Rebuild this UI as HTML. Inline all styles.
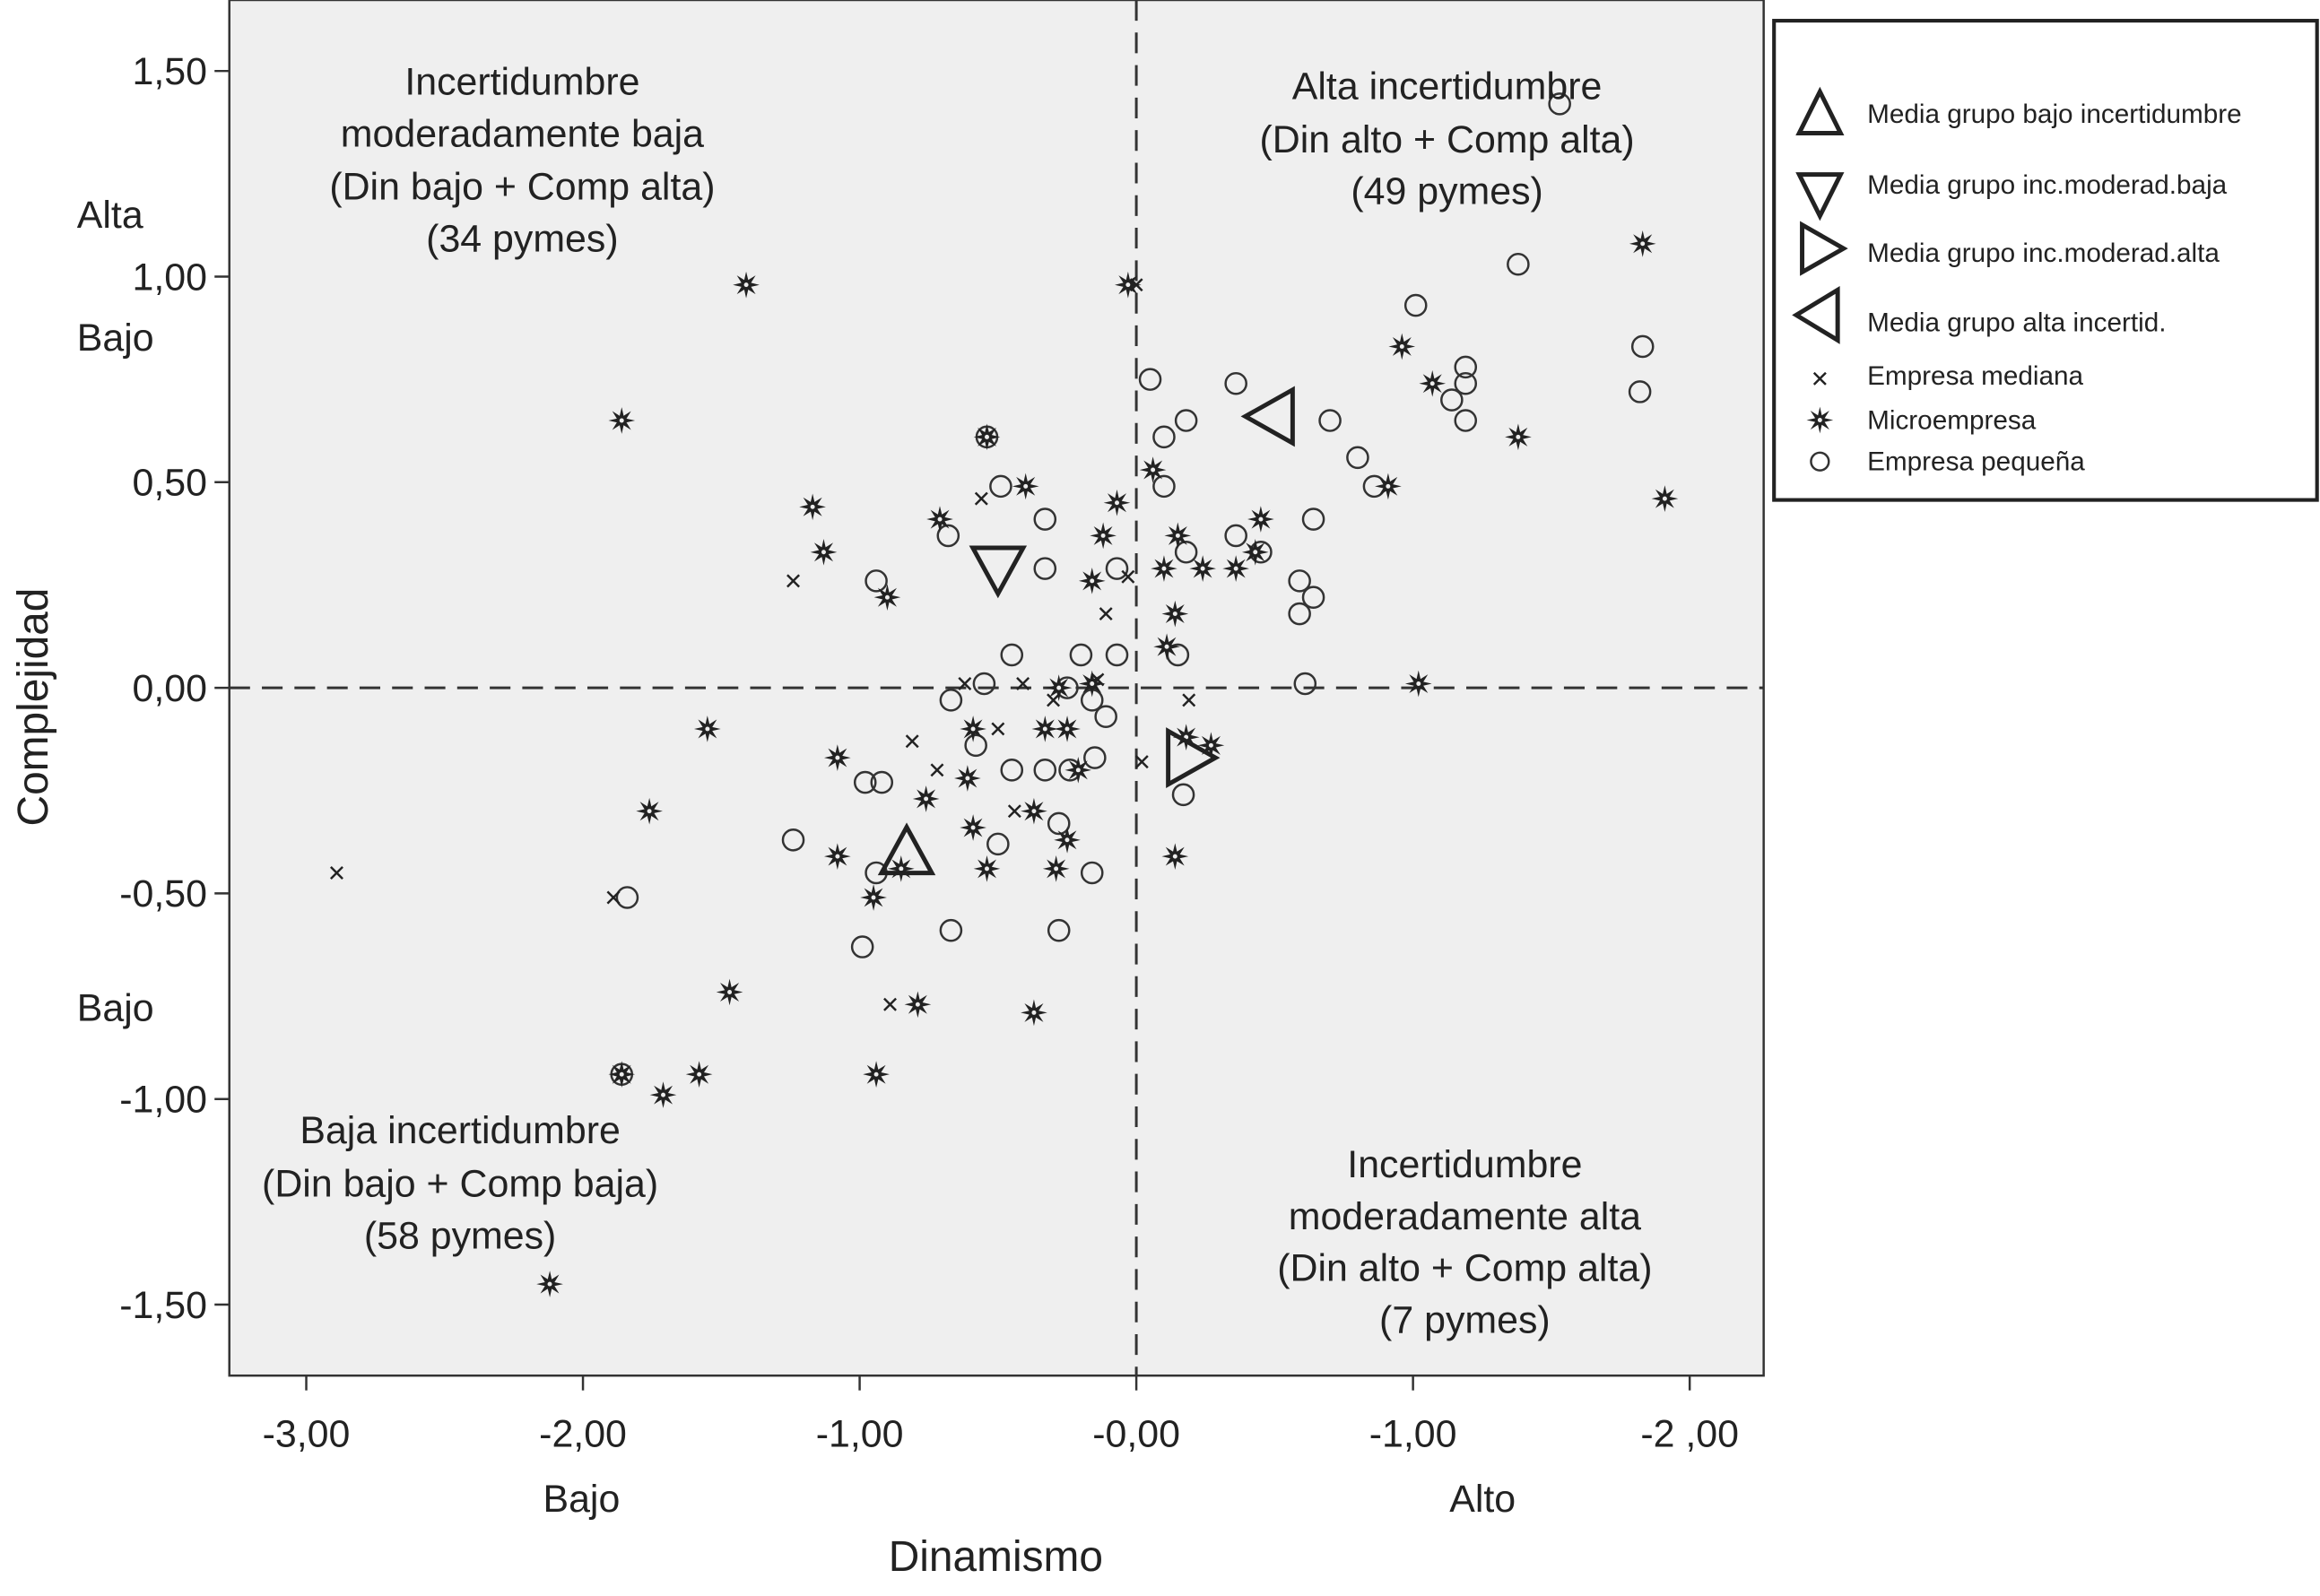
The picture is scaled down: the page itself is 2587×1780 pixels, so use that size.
<!DOCTYPE html>
<html><head><meta charset="utf-8"><style>
html,body{margin:0;padding:0;background:#fff;}
svg{display:block;font-family:"Liberation Sans",Arial,sans-serif;}
</style></head><body>
<svg id="chart" width="2587" height="1780" viewBox="0 0 1568 1079" preserveAspectRatio="none" xmlns="http://www.w3.org/2000/svg">
<rect x="0" y="0" width="1568" height="1079" fill="#fff"/>
<rect x="155" y="0" width="1037" height="930" fill="#efefef" stroke="#333" stroke-width="1.5"/>
<g id="axes"></g>
<g id="marks"></g>
<g font-size="26" fill="#222" text-anchor="middle">
<text x="353" y="64">Incertidumbre</text>
<text x="353" y="99">moderadamente baja</text>
<text x="353" y="135">(Din bajo + Comp alta)</text>
<text x="353" y="170">(34 pymes)</text>
<text x="978" y="67">Alta incertidumbre</text>
<text x="978" y="103">(Din alto + Comp alta)</text>
<text x="978" y="138">(49 pymes)</text>
<text x="311" y="773">Baja incertidumbre</text>
<text x="311" y="809">(Din bajo + Comp baja)</text>
<text x="311" y="844">(58 pymes)</text>
<text x="990" y="796">Incertidumbre</text>
<text x="990" y="831">moderadamente alta</text>
<text x="990" y="866">(Din alto + Comp alta)</text>
<text x="990" y="901">(7 pymes)</text>
</g>
<g font-size="26" fill="#222">
<text x="52" y="154">Alta</text>
<text x="52" y="237">Bajo</text>
<text x="52" y="690">Bajo</text>
<text x="393" y="1022" text-anchor="middle">Bajo</text>
<text x="1002" y="1022" text-anchor="middle">Alto</text>
<text x="673" y="1062" text-anchor="middle" font-size="29">Dinamismo</text>
<text transform="translate(32,478) rotate(-90)" text-anchor="middle" font-size="29">Complejidad</text>
</g>
<g>
<rect x="1199" y="14" width="367" height="324" fill="#fff" stroke="#222" stroke-width="2.5"/>
<polygon points="1230,62 1216,90 1244,90" fill="none" stroke="#222" stroke-width="3"/>
<polygon points="1216,118 1244,118 1230,146" fill="none" stroke="#222" stroke-width="3"/>
<polygon points="1218,152 1246,168 1218,184" fill="none" stroke="#222" stroke-width="3"/>
<polygon points="1242,196 1214,213 1242,230" fill="none" stroke="#222" stroke-width="3"/>
<g font-size="18" fill="#222">
<text x="1262" y="83">Media grupo bajo incertidumbre</text>
<text x="1262" y="131">Media grupo inc.moderad.baja</text>
<text x="1262" y="177">Media grupo inc.moderad.alta</text>
<text x="1262" y="224">Media grupo alta incertid.</text>
<text x="1262" y="260">Empresa mediana</text>
<text x="1262" y="290">Microempresa</text>
<text x="1262" y="318">Empresa pequeña</text>
</g>
<g id="legend-icons"></g>
</g>
</svg>
<script>
const xTicks=[-3,-2,-1,0,1,2];
const xTickLabels=["-3,00","-2,00","-1,00","-0,00","-1,00","-2 ,00"];
const yTicks=[1.5,1,0.5,0,-0.5,-1,-1.5];
const yTickLabels=["1,50","1,00","0,50","0,00","-0,50","-1,00","-1,50"];
const microX=[-1.41,-1.86,-0.03,-1.17,-1.13,-0.90,-0.71,-0.54,-0.40,-0.07,-0.12,-0.16,0.06,0.10,0.15,0.14,0.11,0.24,0.36,0.45,0.43,0.91,0.96,1.07,1.38,1.83,1.91,1.02,-1.55,-1.08,-1.76,-1.08,-0.95,-0.85,-0.76,-0.59,-0.61,-0.59,-0.54,-0.37,-0.33,-0.28,-0.25,-0.21,-0.25,-0.29,-0.16,0.14,0.27,0.18,-1.47,-0.79,-0.37,-0.94,-1.86,-1.71,-1.58,-2.12];
const microY=[0.98,0.65,0.98,0.44,0.33,0.22,0.41,0.61,0.49,0.45,0.37,0.26,0.53,0.29,0.37,0.18,0.10,0.29,0.29,0.41,0.33,0.49,0.83,0.74,0.61,1.08,0.46,0.01,-0.10,-0.17,-0.30,-0.41,-0.51,-0.44,-0.27,-0.10,-0.22,-0.34,-0.44,-0.30,-0.10,0.00,-0.10,-0.20,-0.37,-0.44,0.01,-0.41,-0.14,-0.12,-0.74,-0.77,-0.79,-0.94,-0.94,-0.99,-0.94,-1.45];
const medX=[-2.89,-1.89,-1.24,-0.56,-0.11,-0.03,0.00,-0.62,-0.41,-0.50,-0.81,-0.72,-0.44,-0.89,0.02,0.19,-0.30,-0.14];
const medY=[-0.45,-0.51,0.26,0.46,0.18,0.27,0.98,0.01,0.01,-0.10,-0.13,-0.20,-0.30,-0.77,-0.18,-0.03,-0.03,0.02];
const pequeX=[1.53,1.38,1.01,1.83,1.82,1.19,1.19,1.14,1.19,0.70,0.80,0.86,0.36,0.18,0.05,0.10,0.10,0.64,0.59,0.64,0.59,0.61,0.36,0.45,0.18,0.15,0.17,-0.07,-0.07,-0.20,-0.33,-0.33,-0.49,-0.68,-0.94,-0.54,-0.45,-0.55,-0.67,-0.58,-0.45,-0.33,-0.24,-0.15,-0.16,-0.11,-0.25,-0.98,-0.92,-1.24,-0.94,-0.50,-0.28,-0.16,-1.84,-0.99,-0.67,-0.28,-1.86];
const pequeY=[1.42,1.03,0.93,0.83,0.72,0.78,0.74,0.70,0.65,0.65,0.56,0.49,0.74,0.65,0.75,0.61,0.49,0.41,0.26,0.22,0.18,0.01,0.37,0.33,0.33,0.08,-0.26,0.29,0.08,0.08,0.41,0.29,0.49,0.37,0.26,0.61,0.08,0.01,-0.03,-0.14,-0.20,-0.20,-0.20,-0.17,-0.03,-0.07,0.00,-0.23,-0.23,-0.37,-0.45,-0.38,-0.33,-0.45,-0.51,-0.63,-0.59,-0.59,-0.94];
const meanNames=["mean-bajo","mean-mod-baja","mean-mod-alta","mean-alta"];
const meanX=[-0.83,-0.50,0.19,0.49];
const meanY=[-0.40,0.29,-0.17,0.66];
const NS="http://www.w3.org/2000/svg";
function sx(v){return 768+v*187;}
function sy(v){return 465-v*278;}
function mk(tag,attrs,parent){const e=document.createElementNS(NS,tag);for(const k in attrs)e.setAttribute(k,attrs[k]);parent.appendChild(e);return e;}
const axes=document.getElementById('axes'),marks=document.getElementById('marks');
mk('line',{x1:155,x2:1192,y1:sy(0),y2:sy(0),stroke:'#333','stroke-width':1.8,'stroke-dasharray':'14,8'},axes);
mk('line',{x1:sx(0),x2:sx(0),y1:0,y2:930,stroke:'#333','stroke-width':1.8,'stroke-dasharray':'14,8'},axes);
xTicks.forEach((t,i)=>{
 const l=mk('line',{x1:sx(t),x2:sx(t),y1:930,y2:940,stroke:'#333','stroke-width':1.5},axes);
 
 
 const tx=mk('text',{x:sx(t),y:978,'font-size':26,fill:'#222','text-anchor':'middle'},axes);
 tx.textContent=xTickLabels[i];
 
 
});
yTicks.forEach((t,i)=>{
 const l=mk('line',{x1:145,x2:155,y1:sy(t),y2:sy(t),stroke:'#333','stroke-width':1.5},axes);
 
 
 const tx=mk('text',{x:140,y:sy(t)+9,'font-size':26,fill:'#222','text-anchor':'end'},axes);
 tx.textContent=yTickLabels[i];
 
 
});
function star(cx,cy,parent){
 let p=[];for(let k=0;k<16;k++){const a=k*Math.PI/8,r=k%2?3.5:9;p.push((cx+r*Math.sin(a)).toFixed(1)+','+(cy-r*Math.cos(a)).toFixed(1));}
 const g=mk('polygon',{points:p.join(' '),fill:'#222'},parent);
 mk('circle',{cx:cx,cy:cy,r:1.5,fill:'#eee'},parent);return g;
}
function cross(cx,cy,parent){
 const g=mk('path',{d:`M${cx-4},${cy-4}L${cx+4},${cy+4}M${cx-4},${cy+4}L${cx+4},${cy-4}`,stroke:'#222','stroke-width':1.5},parent);return g;
}
pequeX.forEach((v,i)=>{
 const c=mk('circle',{cx:sx(v),cy:sy(pequeY[i]),r:7,fill:'none',stroke:'#333','stroke-width':1.5},marks);
 
 
});
medX.forEach((v,i)=>{
 const c=cross(sx(v),sy(medY[i]),marks);
 
 
});
microX.forEach((v,i)=>{
 const c=star(sx(v),sy(microY[i]),marks);
 
 
});
const tri=[[[0,-17],[-17,14],[17,14]],[[-17,-14],[17,-14],[0,17]],[[-14,-18],[18,0],[-14,18]],[[14,-18],[-18,0],[14,18]]];
meanX.forEach((v,i)=>{
 const cx=sx(v),cy=sy(meanY[i]);
 const p=mk('polygon',{points:tri[i].map(q=>(cx+q[0])+','+(cy+q[1])).join(' '),fill:'none',stroke:'#222','stroke-width':3},marks);
 
 
});
const li=document.getElementById('legend-icons');
cross(1230,256,li);
star(1230,284,li);
mk('circle',{cx:1230,cy:312,r:6,fill:'none',stroke:'#333','stroke-width':1.5},li);
</script>
</body></html>
